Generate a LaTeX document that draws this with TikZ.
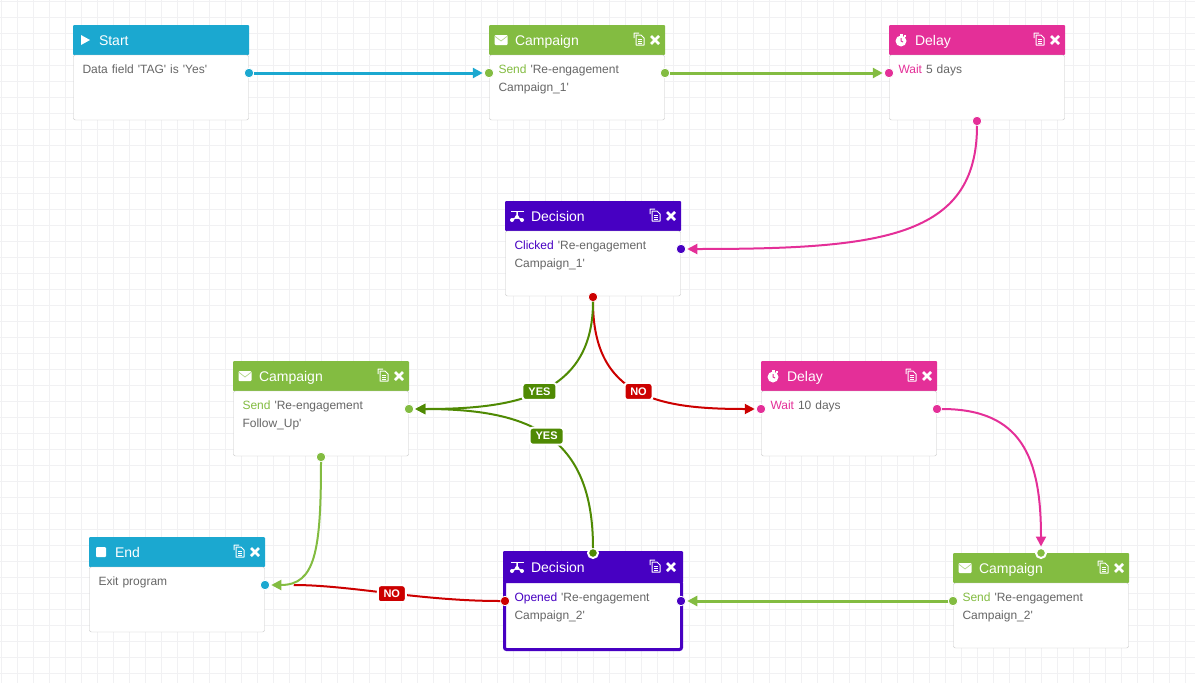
\documentclass[tikz,border=0pt]{standalone}
\usepackage{fontspec}
\setmainfont{Liberation Sans}[Ligatures=TeXOff]
\usetikzlibrary{positioning,arrows.meta}

\definecolor{flowblue}{HTML}{1BA8D0}
\definecolor{flowgreen}{HTML}{83BC41}
\definecolor{flowpink}{HTML}{E42F98}
\definecolor{flowpurple}{HTML}{4700C2}
\definecolor{flowdark}{HTML}{4F8A03}
\definecolor{flowred}{HTML}{CC0000}
\definecolor{flowgrid}{HTML}{F1F1F3}
\definecolor{flowborder}{HTML}{C4C4C4}
\definecolor{flowtext}{HTML}{666666}

\tikzset{
	>={Triangle[length=10pt,width=10pt]},
	headbox/.style={shape=rectangle,fill=#1,text=white,rounded corners=1pt,outer sep=0pt,inner sep=0pt,minimum height=30pt,
		text width=176pt,text height=10pt,text depth=0pt,align=left,font=\fontsize{14}{16}\selectfont,execute at begin node=\hspace*{26pt}},
	bodybox/.style={shape=rectangle,draw=flowborder,fill=white,text=flowtext,rounded corners=2pt,outer sep=0pt,inner xsep=9pt,inner ysep=0pt,
		text width=157pt,text height=18pt,text depth=47pt,align=left,font=\fontsize{12}{18.5}\selectfont},
	pickedhead/.style={headbox=flowpurple,minimum height=32pt,text width=180pt,execute at begin node=\hspace*{2pt}},
	pickedbody/.style={bodybox,draw=flowpurple,line width=3pt,inner xsep=10pt,text height=19.5pt,text depth=48.5pt},
	portdot/.style={shape=circle,fill=#1,draw=white,line width=.8pt,inner sep=0pt,minimum size=9.5pt,outer sep=0pt},
	portring/.style={portdot=#1,line width=2pt,minimum size=10pt},
	flowline/.style={#1,line width=3pt,shorten >=1.5pt},
	bendline/.style={#1,line width=2pt,shorten >=1.5pt},
	yeslabel/.style={shape=rectangle,fill=#1,draw=white,text=white,rounded corners=3pt,inner sep=0pt,minimum height=17pt,
		font=\fontsize{11}{12}\selectfont\bfseries},
	gridline/.style={flowgrid,line width=1pt},
	playicon/.pic={\fill[white] (-4,-5) -- (5,0) -- (-4,5) -- cycle;},
	stopicon/.pic={\fill[white,rounded corners=1pt] (-5,-5) rectangle (5,5);},
	mailicon/.pic={\fill[white,rounded corners=1pt] (-6.5,-5) rectangle (6.5,5);
		\draw[flowgreen!60!white,line width=.7pt] (-6.5,-4) -- (0,1) -- (6.5,-4);},
	clockicon/.pic={\fill[white] (0,1) circle (5.5pt);\fill[white] (-1.5,-6.5) rectangle (1.5,-4);\fill[white] (3,-5.5) rectangle (5,-3.5);
		\draw[flowpink,line width=1pt] (0,-2) -- (0,1) -- (2,2);},
	forkicon/.pic={\fill[white] (-6.5,-5.5) rectangle (6.5,-4);\draw[white,line width=1.5pt] (0,-4) -- (0,1) (-5,4) -- (0,1) -- (5,4);
		\fill[white] (0,1) circle (2pt) (-5,4) circle (2pt) (5,4) circle (2pt);},
	cardtools/.pic={
		\draw[white,line width=1pt,line join=round] (-31,-2) -- (-31,-7) -- (-26,-7) (-29,-5) -- (-24,-5) -- (-21,-2) -- (-21,5) -- (-29,5) -- cycle;
		\draw[white,line width=.8pt] (-27,-1) -- (-23,-1) (-27,1) -- (-23,1) (-27,3) -- (-23,3);
		\draw[white,line width=2.8pt] (-14,-4) -- (-6,4) (-14,4) -- (-6,-4);},
}

\begin{document}
\begin{tikzpicture}[x=1pt,y=-1pt]
	\useasboundingbox (0,0) rectangle (1195,683);
	\foreach \gridx in {1.5,17.5,...,1195} \draw[gridline] (\gridx,0) -- (\gridx,683);
	\foreach \gridy in {1.5,17.5,...,683} \draw[gridline] (0,\gridy) -- (1195,\gridy);

	\node[headbox=flowblue] (start) at (161,40) {Start};
	\node[bodybox,below=0pt of start] (startbody) {Data field 'TAG' is 'Yes'};
	\node[headbox=flowgreen] (camp1) at (577,40) {Campaign};
	\node[bodybox,below=0pt of camp1] (camp1body) {\textcolor{flowgreen}{Send} 'Re-engagement\\Campaign\_1'};
	\node[headbox=flowpink] (delay1) at (977,40) {Delay};
	\node[bodybox,below=0pt of delay1] (delay1body) {\textcolor{flowpink}{Wait} 5 days};
	\node[headbox=flowpurple] (dec1) at (593,216) {Decision};
	\node[bodybox,below=0pt of dec1] (dec1body) {\textcolor{flowpurple}{Clicked} 'Re-engagement\\Campaign\_1'};
	\node[headbox=flowgreen] (follow) at (321,376) {Campaign};
	\node[bodybox,below=0pt of follow] (followbody) {\textcolor{flowgreen}{Send} 'Re-engagement\\Follow\_Up'};
	\node[headbox=flowpink] (delay2) at (849,376) {Delay};
	\node[bodybox,below=0pt of delay2] (delay2body) {\textcolor{flowpink}{Wait} 10 days};
	\node[headbox=flowblue] (exit) at (177,552) {End};
	\node[bodybox,below=0pt of exit] (exitbody) {Exit program};
	\node[pickedhead] (dec2) at (593,567) {Decision};
	\node[pickedbody,below=-1.5pt of dec2] (dec2body) {\textcolor{flowpurple}{Opened} 'Re-engagement\\Campaign\_2'};
	\node[headbox=flowgreen] (camp2) at (1041,568) {Campaign};
	\node[bodybox,below=0pt of camp2] (camp2body) {\textcolor{flowgreen}{Send} 'Re-engagement\\Campaign\_2'};

	\pic at ([xshift=12pt]start.west) {playicon};
	\pic at ([xshift=12pt]camp1.west) {mailicon};
	\pic at ([xshift=12pt]delay1.west) {clockicon};
	\pic at ([xshift=12pt]dec1.west) {forkicon};
	\pic at ([xshift=12pt]follow.west) {mailicon};
	\pic at ([xshift=12pt]delay2.west) {clockicon};
	\pic at ([xshift=12pt]exit.west) {stopicon};
	\pic at ([xshift=14pt]dec2.west) {forkicon};
	\pic at ([xshift=12pt]camp2.west) {mailicon};

	\pic at (camp1.east) {cardtools};
	\pic at (delay1.east) {cardtools};
	\pic at (dec1.east) {cardtools};
	\pic at (follow.east) {cardtools};
	\pic at (delay2.east) {cardtools};
	\pic at (exit.east) {cardtools};
	\pic at ([xshift=-2pt]dec2.east) {cardtools};
	\pic at (camp2.east) {cardtools};

	\node[portdot=flowblue] (startout) at (249,73) {};
	\node[portdot=flowgreen] (camp1in) at (489,73) {};
	\node[portdot=flowgreen] (camp1out) at (665,73) {};
	\node[portdot=flowpink] (delay1in) at (889,73) {};
	\node[portdot=flowpink] (delay1out) at (977,121) {};
	\node[portdot=flowpurple] (dec1in) at (681,249) {};
	\node[portdot=flowred] (dec1out) at (593,297) {};
	\node[portdot=flowgreen] (followin) at (409,409) {};
	\node[portdot=flowgreen] (followout) at (321,457) {};
	\node[portdot=flowpink] (delay2in) at (761,409) {};
	\node[portdot=flowpink] (delay2out) at (937,409) {};
	\node[portdot=flowblue] (exitin) at (265,585) {};
	\node[portdot=flowred] (dec2no) at (505,601) {};
	\node[portring=flowdark] (dec2yes) at (593,553) {};
	\node[portdot=flowpurple] (dec2in) at (681,601) {};
	\node[portdot=flowgreen] (camp2out) at (953,601) {};
	\node[portring=flowgreen] (camp2in) at (1041,553) {};

	\draw [->,flowline=flowblue] (startout) -- (camp1in);
	\draw [->,flowline=flowgreen] (camp1out) -- (delay1in);
	\draw [->,flowline=flowgreen] (camp2out) -- (dec2in);
	\draw [->,bendline=flowpink] (delay1out) .. controls +(0,117) and +(200,0) .. (dec1in);
	\draw [->,bendline=flowpink] (delay2out) .. controls +(85,0) and +(0,-95) .. (camp2in);
	\draw [->,bendline=flowred] (dec1out) .. controls +(0,101) and +(-101,0) .. node[yeslabel=flowred,minimum width=28pt] {NO} (delay2in);
	\draw [->,bendline=flowdark] (dec2yes) .. controls +(0,-118) and +(120,0) .. node[yeslabel=flowdark,minimum width=34pt] {YES} (followin);
	\draw [->,bendline=flowdark] (dec1out) .. controls +(0,101) and +(101,0) .. node[yeslabel=flowdark,minimum width=34pt] {YES} (followin);
	\draw [bendline=flowred,shorten >=24pt] (dec2no) .. controls +(-85,0) and +(85,0) .. node[pos=.47,yeslabel=flowred,minimum width=28pt] {NO} (exitin);
	\draw [->,bendline=flowgreen] (followout) .. controls +(0,95) and +(50,0) .. (exitin);
\end{tikzpicture}
\end{document}
